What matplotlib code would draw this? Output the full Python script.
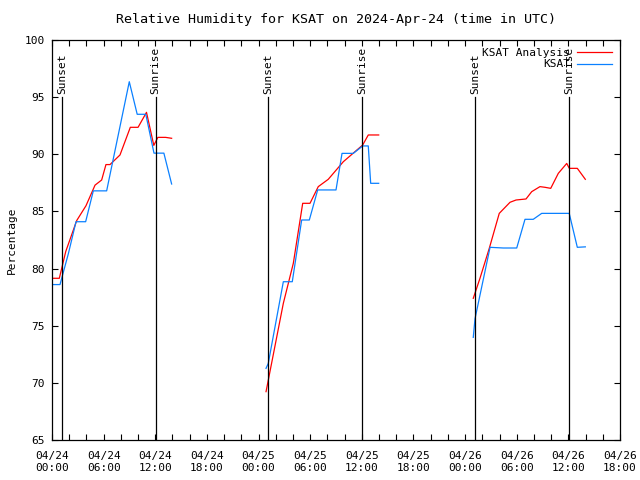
import numpy as np
import pandas as pd
import matplotlib
matplotlib.use('Agg')
import matplotlib.pyplot as plt
import matplotlib.dates as mdates

plt.rcParams['font.family'] = 'DejaVu Sans Mono'
plt.rcParams['font.size'] = 8

start = pd.Timestamp('2024-04-24 00:00')

# hours after 04/24 00:00 UTC, one list per day
ana_hours = [
    [0.0, 0.85, 1.6, 2.87, 3.95, 5.0, 5.77, 6.27, 6.74, 7.9, 9.1, 10.0, 10.98, 11.83, 12.3, 13.2, 13.9],
    [24.87, 26.88, 28.04, 29.13, 29.98, 30.94, 32.1, 33.85, 36.1, 36.75, 37.96],
    [48.95, 49.73, 50.81, 51.97, 53.22, 53.92, 55.08, 55.74, 56.7, 57.29, 57.95, 58.83, 59.81, 60.11, 61.04, 61.97],
]
ana_rh = [
    [79.15, 79.15, 81.5, 84.2, 85.5, 87.3, 87.75, 89.1, 89.1, 89.94, 92.36, 92.36, 93.67, 90.78, 91.48, 91.48, 91.4],
    [69.23, 76.96, 80.46, 85.71, 85.71, 87.17, 87.81, 89.35, 90.81, 91.69, 91.69],
    [77.4, 79.15, 81.77, 84.83, 85.8, 86.0, 86.09, 86.73, 87.17, 87.11, 87.02, 88.33, 89.2, 88.77, 88.77, 87.81],
]

obs_hours = [
    [0.0, 0.93, 1.9, 2.79, 3.91, 4.8, 6.35, 8.98, 9.9, 10.9, 11.85, 13.0, 13.9],
    [24.87, 25.13, 26.88, 27.92, 29.01, 29.9, 30.87, 33.0, 33.7, 35.01, 36.1, 36.75, 37.03, 37.96],
    [48.95, 49.15, 50.9, 52.44, 54.0, 54.96, 55.92, 56.9, 60.1, 61.04, 61.97],
]
obs_rh = [
    [78.6, 78.6, 81.3, 84.1, 84.1, 86.8, 86.8, 96.35, 93.5, 93.5, 90.1, 90.1, 87.4],
    [71.27, 71.7, 78.85, 78.85, 84.25, 84.25, 86.88, 86.88, 90.08, 90.08, 90.73, 90.73, 87.46, 87.46],
    [73.98, 75.6, 81.86, 81.8, 81.8, 84.31, 84.31, 84.83, 84.83, 81.86, 81.9],
]

sun_hours = [1.16, 12.03, 25.1, 36.0, 49.15, 60.07]
sun_labels = ['Sunset', 'Sunrise', 'Sunset', 'Sunrise', 'Sunset', 'Sunrise']


def to_time(h):
    return start + pd.to_timedelta(np.array(h), unit='h')


fig = plt.figure(figsize=(6.4, 4.8), dpi=100)
ax = fig.add_axes([52 / 640, 40 / 480, 568 / 640, 400 / 480])

for i in range(3):
    ax.plot(to_time(ana_hours[i]), ana_rh[i], color='#ff0000', lw=0.9,
            label='KSAT Analysis' if i == 0 else None)
for i in range(3):
    ax.plot(to_time(obs_hours[i]), obs_rh[i], color='#0a80ff', lw=0.9,
            label='KSAT' if i == 0 else None)

for h, lab in zip(sun_hours, sun_labels):
    t = to_time([h])[0]
    ax.plot([t, t], [65, 95], color='black', lw=0.9)
    ax.text(t, 95.3, lab, rotation=90, ha='center', va='bottom')

ax.set_xlim(start, start + pd.Timedelta(hours=66))
ax.set_ylim(65, 100)
ax.set_yticks(np.arange(65, 101, 5))
ax.xaxis.set_major_locator(mdates.HourLocator(byhour=[0, 6, 12, 18]))
ax.xaxis.set_minor_locator(mdates.HourLocator(interval=2))
ax.xaxis.set_major_formatter(mdates.DateFormatter('%m/%d\n%H:%M'))
ax.tick_params(which='both', direction='in', top=True, right=True, length=4, width=0.8)
ax.tick_params(axis='x', pad=8)
ax.tick_params(axis='y', pad=5)
for s in ax.spines.values():
    s.set_linewidth(0.9)

ax.set_ylabel('Percentage', labelpad=6)
ax.set_title('Relative Humidity for KSAT on 2024-Apr-24 (time in UTC)', pad=12)
ax.legend(loc='upper right', frameon=False, markerfirst=False, handlelength=3.2,
          borderaxespad=0.3, labelspacing=0.15, handletextpad=0.6)

fig.savefig('out.png', dpi=100)
